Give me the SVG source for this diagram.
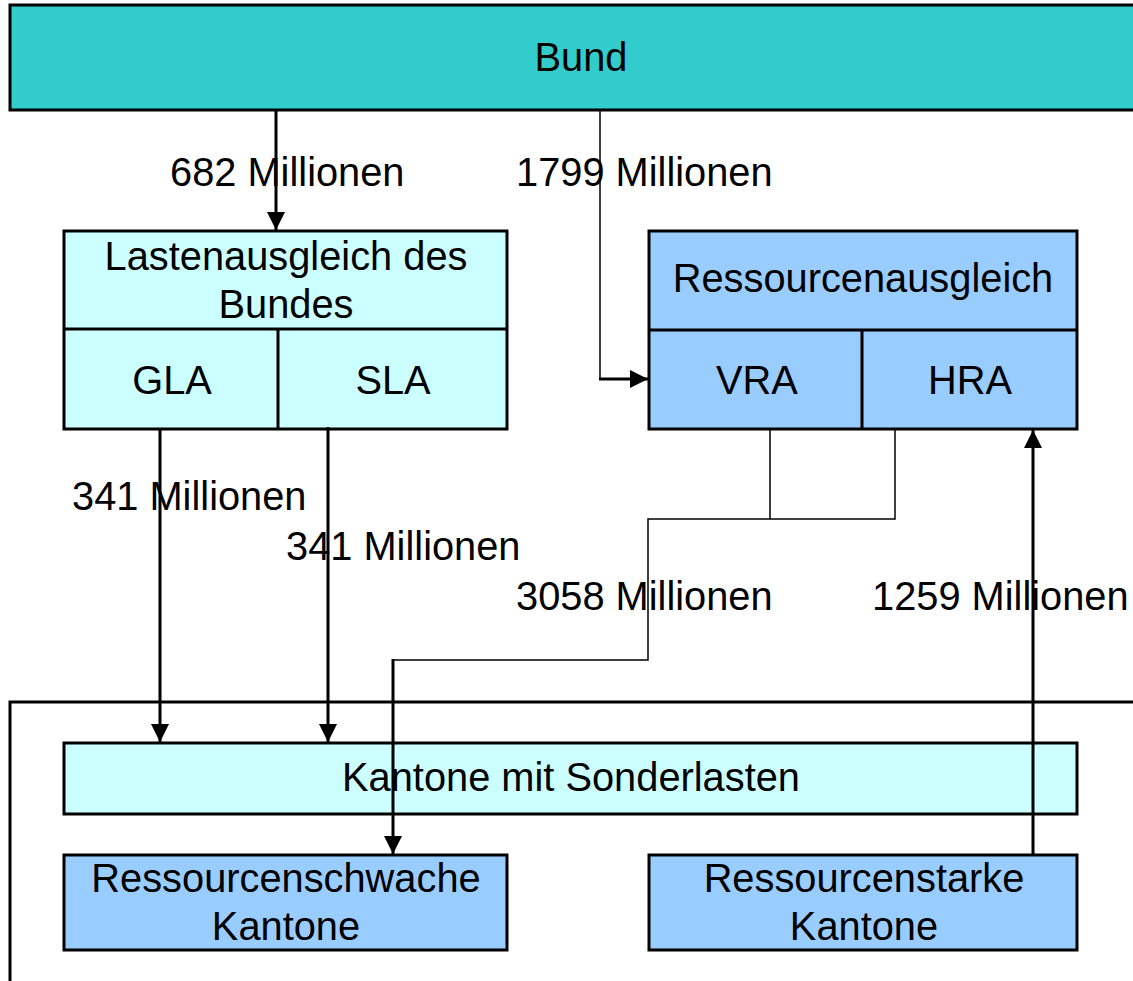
<svg xmlns="http://www.w3.org/2000/svg" width="1133" height="981" viewBox="0 0 1133 981">
<style>
text{font-family:"Liberation Sans",Arial,sans-serif;font-size:39.8px;fill:#000}
.c{text-anchor:middle}
.box{stroke:#000;stroke-width:3}
.teal{fill:#33CCCC}
.lc{fill:#CCFFFF}
.lb{fill:#99CCFF}
.thick{stroke:#000;stroke-width:3;fill:none}
.thin{stroke:#000;stroke-width:1.5;fill:none}
</style>
<defs>
<marker id="arr" viewBox="0 0 18 18" refX="18" refY="9" markerWidth="18" markerHeight="18" orient="auto" markerUnits="userSpaceOnUse">
<path d="M0,0 L18,9 L0,18 z" fill="#000"/>
</marker>
</defs>
<rect width="1133" height="981" fill="#fff"/>

<g id="bund">
<rect class="box teal" x="10" y="5" width="1140" height="105"/>
<text class="c" x="581" y="71">Bund</text>
</g>

<g id="lastenausgleich">
<rect class="box lc" x="64" y="231" width="443" height="198"/>
<line class="thick" x1="64" y1="329" x2="507" y2="329"/>
<line class="thick" x1="278" y1="329" x2="278" y2="429"/>
<text class="c" x="286" y="270">Lastenausgleich des</text>
<text class="c" x="286" y="318">Bundes</text>
<text class="c" x="172" y="394">GLA</text>
<text class="c" x="393" y="394">SLA</text>
</g>

<g id="ressourcenausgleich">
<rect class="box lb" x="649" y="231" width="428" height="198"/>
<line class="thick" x1="649" y1="330" x2="1077" y2="330"/>
<line class="thick" x1="862" y1="330" x2="862" y2="429"/>
<text class="c" x="863" y="292">Ressourcenausgleich</text>
<text class="c" x="757" y="394">VRA</text>
<text class="c" x="970" y="394">HRA</text>
</g>

<g id="kantone-frame">
<path class="thick" d="M10,981 L10,702 L1140,702"/>
</g>

<g id="sonderlasten">
<rect class="box lc" x="64" y="743" width="1013" height="71"/>
<text class="c" x="571" y="791">Kantone mit Sonderlasten</text>
</g>

<g id="ressourcenschwache">
<rect class="box lb" x="64" y="855" width="443" height="95"/>
<text class="c" x="286" y="892">Ressourcenschwache</text>
<text class="c" x="286" y="940">Kantone</text>
</g>

<g id="ressourcenstarke">
<rect class="box lb" x="649" y="855" width="428" height="95"/>
<text class="c" x="864" y="892">Ressourcenstarke</text>
<text class="c" x="864" y="940">Kantone</text>
</g>

<g id="connectors">
<line class="thick" x1="276" y1="110" x2="276" y2="230" marker-end="url(#arr)"/>
<path class="thin" d="M600,110 L600,379"/>
<line class="thick" x1="599" y1="379" x2="648" y2="379" marker-end="url(#arr)"/>
<line class="thick" x1="160" y1="429" x2="160" y2="742" marker-end="url(#arr)"/>
<line class="thick" x1="328" y1="427" x2="328" y2="742" marker-end="url(#arr)"/>
<path class="thin" d="M770,429 L770,519 M895,429 L895,519 L648,519 L648,660 L393,660"/>
<line class="thick" x1="393" y1="659" x2="393" y2="854" marker-end="url(#arr)"/>
<line class="thick" x1="1033" y1="855" x2="1033" y2="430" marker-end="url(#arr)"/>
</g>

<g id="labels">
<text x="170" y="186">682 Millionen</text>
<text x="516" y="186">1799 Millionen</text>
<text x="72" y="510">341 Millionen</text>
<text x="286" y="560">341 Millionen</text>
<text x="516" y="610">3058 Millionen</text>
<text x="872" y="610">1259 Millionen</text>
</g>
</svg>
